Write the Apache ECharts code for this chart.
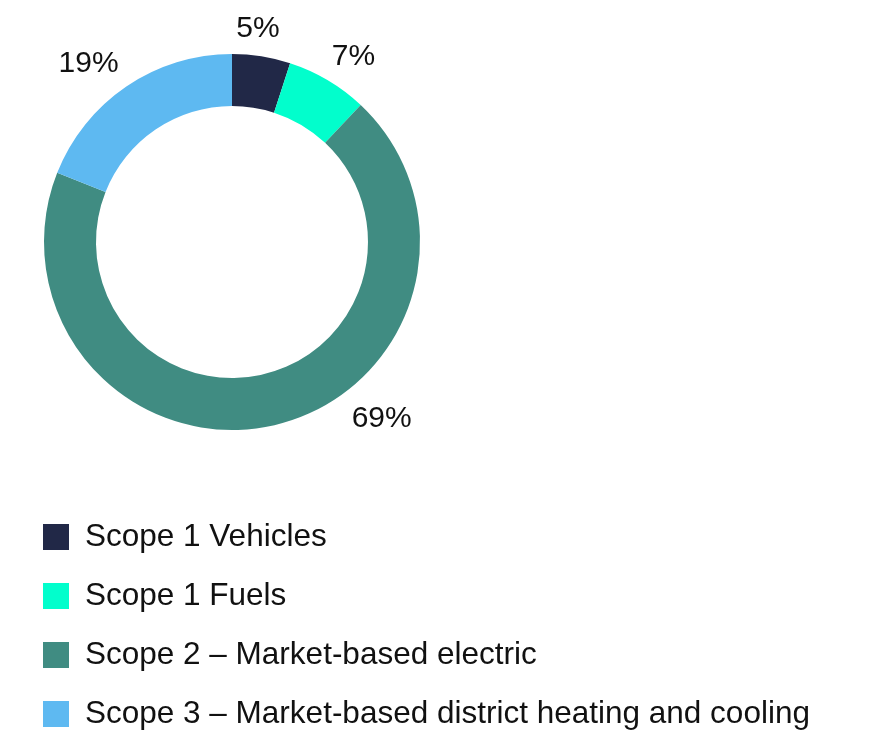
<!DOCTYPE html>
<html>
<head>
<meta charset="utf-8">
<script src="https://cdn.jsdelivr.net/npm/echarts@6/dist/echarts.min.js"></script>
<style>
  html, body { margin: 0; padding: 0; background: #ffffff; }
  #chart { width: 888px; height: 732px; }
</style>
</head>
<body>
<div id="chart"></div>
<script>
// Emissions breakdown by scope (percent of total)
const categories = [
  'Scope 1 Vehicles',
  'Scope 1 Fuels',
  'Scope 2 – Market-based electric',
  'Scope 3 – Market-based district heating and cooling'
];
const shares = [5, 7, 69, 19];
const colors = ['#212847', '#02FECC', '#408C82', '#5EB9F1'];
// Small nudges for the percentage labels, in pixels [dx, dy]
const labelNudges = [[-32, -16], [-7, -13], [71, -18], [4, -13]];

const chart = echarts.init(document.getElementById('chart'), null, { renderer: 'canvas' });

chart.setOption({
  animation: false,
  color: colors,
  legend: {
    orient: 'vertical',
    left: 43,
    top: 521,
    height: 260,
    padding: 0,
    icon: 'rect',
    itemWidth: 26,
    itemHeight: 26,
    itemGap: 27,
    selectedMode: false,
    textStyle: {
      fontFamily: 'Liberation Sans',
      fontSize: 31.5,
      lineHeight: 26,
      color: '#111111',
      padding: [0, 0, 0, 11]
    }
  },
  series: [{
    type: 'pie',
    center: [232, 242],
    radius: [136, 188],
    startAngle: 90,
    clockwise: true,
    avoidLabelOverlap: false,
    data: categories.map((name, i) => ({ name, value: shares[i] })),
    label: {
      show: true,
      position: 'outside',
      formatter: p => p.value + '%',
      fontFamily: 'Liberation Sans',
      fontSize: 30,
      color: '#111111'
    },
    labelLine: { show: false, length: 12, length2: 0 },
    labelLayout: p => ({ dx: labelNudges[p.dataIndex][0], dy: labelNudges[p.dataIndex][1] }),
    itemStyle: { borderWidth: 0 },
    emphasis: { disabled: true }
  }]
});
</script>
</body>
</html>
